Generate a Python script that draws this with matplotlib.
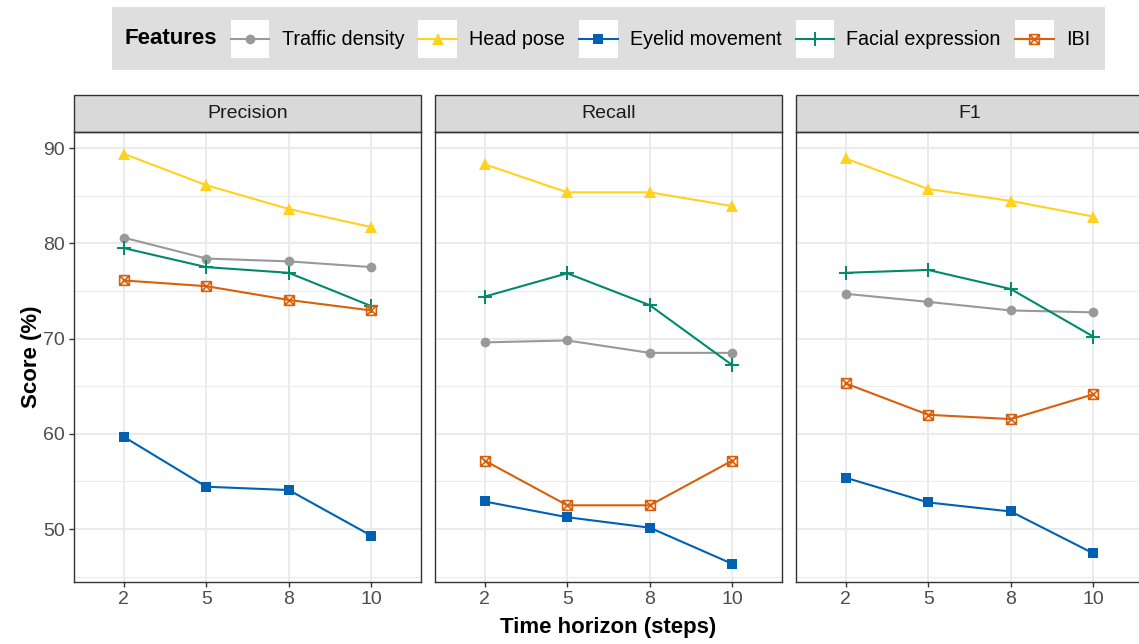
import matplotlib
matplotlib.use('Agg')
import matplotlib.pyplot as plt
import numpy as np
from matplotlib.path import Path
from matplotlib.patches import Rectangle
from matplotlib.lines import Line2D
from matplotlib.legend_handler import HandlerLine2D

# data (rows: Precision, Recall, F1)
horizons = ['2', '5', '8', '10']
metrics = ['Precision', 'Recall', 'F1']
features = ['Traffic density', 'Head pose', 'Eyelid movement', 'Facial expression', 'IBI']

traffic_density = [[80.6, 78.4, 78.1, 77.5], [69.6, 69.8, 68.5, 68.5], [74.7, 73.85, 72.95, 72.75]]
head_pose = [[89.4, 86.1, 83.6, 81.7], [88.3, 85.35, 85.35, 83.9], [88.9, 85.7, 84.45, 82.8]]
eyelid_movement = [[59.7, 54.45, 54.1, 49.3], [52.9, 51.25, 50.15, 46.35], [55.4, 52.8, 51.85, 47.45]]
facial_expression = [[79.5, 77.5, 76.9, 73.4], [74.4, 76.85, 73.5, 67.2], [76.9, 77.2, 75.2, 70.2]]
ibi = [[76.1, 75.5, 74.05, 72.95], [57.2, 52.5, 52.5, 57.2], [65.3, 62.0, 61.55, 64.15]]

y_ticks = [50, 60, 70, 80, 90]
y_minor = [45, 55, 65, 75, 85]

W = 1139; H = 644

# square with a cross inside (ggplot shape 7)
sq_cross = Path([(-1, -1), (1, -1), (1, 1), (-1, 1), (-1, -1), (-1, -1), (1, 1), (-1, 1), (1, -1)],
                [Path.MOVETO, Path.LINETO, Path.LINETO, Path.LINETO, Path.CLOSEPOLY,
                 Path.MOVETO, Path.LINETO, Path.MOVETO, Path.LINETO])

styles = [
    dict(color='#999999', marker='o', ms=7, mfc='#999999', mew=0),
    dict(color='#FFD21F', marker='^', ms=8.5, mfc='#FFD21F', mew=0),
    dict(color='#0061B0', marker='s', ms=6.5, mfc='#0061B0', mew=0),
    dict(color='#00896C', marker='+', ms=10, mew=1.4),
    dict(color='#D9600B', marker=sq_cross, ms=7, mfc='none', mew=1.2),
]


class KeyHandler(HandlerLine2D):
    # white key background like ggplot legend keys, line centred in the key
    def create_artists(self, legend, orig_handle, xdescent, ydescent, width, height, fontsize, trans):
        bg = Rectangle((-xdescent, -ydescent), width, height, facecolor='white', edgecolor='none', transform=trans)
        arts = super().create_artists(legend, orig_handle, xdescent, ydescent, width, height, fontsize, trans)
        yc = height / 2 - ydescent
        for a in arts:
            if isinstance(a, Line2D):
                a.set_ydata(np.full(len(a.get_xdata()), yc))
        return [bg] + arts


def px(x0, y0, w, h):
    return [x0 / W, 1 - (y0 + h) / H, w / W, h / H]


def main():
    plt.rcParams['font.family'] = ['Liberation Sans', 'DejaVu Sans']
    fig = plt.figure(figsize=(W / 100, H / 100), dpi=100)

    series = [traffic_density, head_pose, eyelid_movement, facial_expression, ibi]
    xs = np.arange(len(horizons)) + 1
    lefts = [74, 435, 796]
    top = 132; bottom = 582; pw = 347

    handles = []
    for m in range(len(metrics)):
        ax = fig.add_axes(px(lefts[m], top, pw, bottom - top))
        ax.set_xlim(0.4, 4.6); ax.set_ylim(44.45, 91.68)
        ax.set_yticks(y_ticks); ax.set_yticks(y_minor, minor=True)
        ax.set_xticks(xs); ax.set_xticklabels(horizons)
        ax.grid(which='major', color='#ebebeb', lw=1.4)
        ax.grid(which='minor', axis='y', color='#ebebeb', lw=0.8)
        ax.set_axisbelow(True)
        ax.tick_params(which='major', length=3.8, width=1.0, color='#333333', labelcolor='#4d4d4d',
                       labelsize=14, pad=3)
        ax.tick_params(which='minor', length=0)
        if m > 0:
            ax.tick_params(axis='y', which='major', length=0, labelleft=False)
        for s in ax.spines.values():
            s.set_color('#333333'); s.set_linewidth(1.0)

        for k in range(len(features)):
            ln, = ax.plot(xs, series[k][m], lw=1.5, label=features[k], **styles[k])
            if m == 0:
                handles.append(ln)

        # facet strip
        sh = 37 / (bottom - top)
        ax.add_patch(Rectangle((0, 1), 1, sh, transform=ax.transAxes, facecolor='#d9d9d9',
                               edgecolor='#333333', lw=1.0, clip_on=False))
        ax.text(0.5, 1 + sh / 2, metrics[m], transform=ax.transAxes, ha='center', va='center',
                fontsize=14, color='#1a1a1a')

    # axis titles
    fig.text(608.5 / W, 1 - 628 / H, 'Time horizon (steps)', ha='center', va='center',
             fontsize=16, fontweight='bold')
    fig.text(31 / W, 1 - 357 / H, 'Score (%)', ha='center', va='center', rotation=90,
             fontsize=16, fontweight='bold')

    # legend box on top
    fig.patches.append(Rectangle((112 / W, 1 - 70 / H), 993 / W, 63 / H, transform=fig.transFigure,
                                 facecolor='#dedede', edgecolor='none'))
    fig.text(125 / W, 1 - 39 / H, 'Features', ha='left', va='center', fontsize=16, fontweight='bold')
    fig.legend(handles=handles, labels=features, ncol=5, loc='center left',
               bbox_to_anchor=(231 / W, 1 - 39 / H), frameon=False, fontsize=14.2,
               handlelength=1.95, handleheight=2.6, handletextpad=0.62, columnspacing=0.72,
               borderpad=0, borderaxespad=0,
               handler_map={l: KeyHandler(marker_pad=0) for l in handles})

    fig.savefig('out.png', dpi=100)


if __name__ == "__main__":
    main()
